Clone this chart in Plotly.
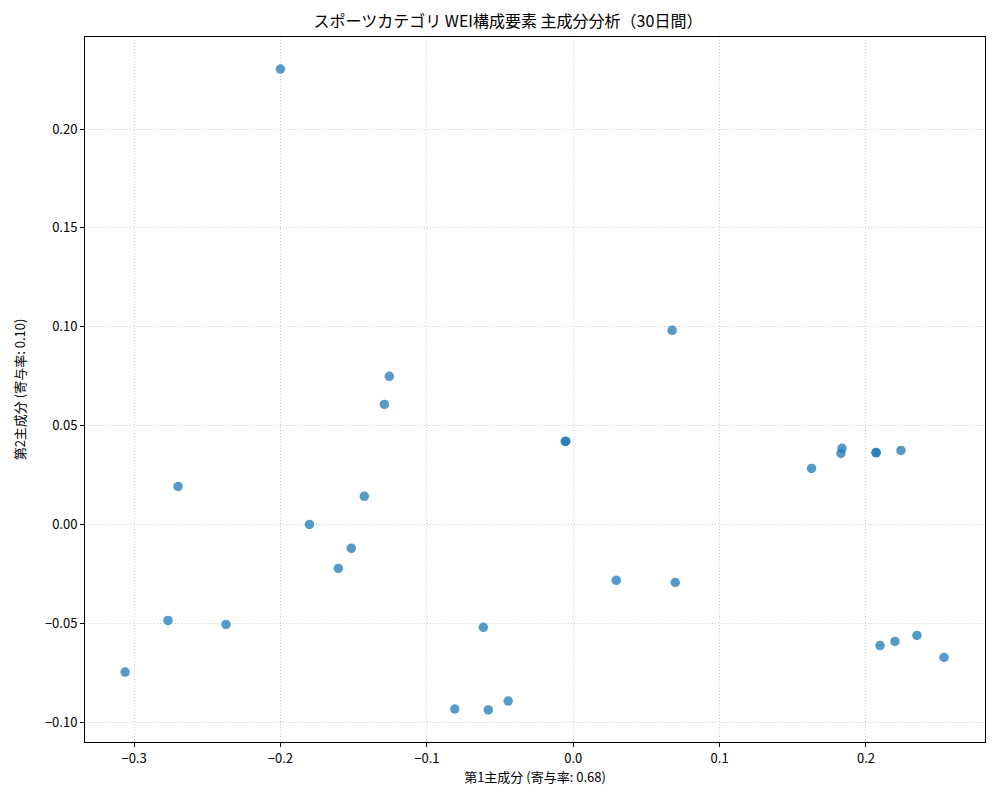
import plotly.graph_objects as go

pc1 = [-0.2000, -0.3061, -0.2699, -0.2768, -0.2372, -0.1802, -0.1604, -0.1516,
       -0.1427, -0.1290, -0.1256, -0.0809, -0.0580, -0.0614, -0.0444, -0.0055,
       -0.0050, 0.0294, 0.0676, 0.0697, 0.1628, 0.1829, 0.1836, 0.2068,
       0.2070, 0.2239, 0.2096, 0.2198, 0.2348, 0.2533]
pc2 = [0.2304, -0.0747, 0.0192, -0.0486, -0.0506, 0.0000, -0.0223, -0.0121,
       0.0142, 0.0607, 0.0749, -0.0934, -0.0939, -0.0521, -0.0894, 0.0420,
       0.0421, -0.0283, 0.0982, -0.0294, 0.0283, 0.0359, 0.0385, 0.0364,
       0.0362, 0.0374, -0.0613, -0.0592, -0.0562, -0.0673]

x_ticks = [-0.3, -0.2, -0.1, 0.0, 0.1, 0.2]
x_tick_labels = ["−0.3", "−0.2", "−0.1", "0.0", "0.1", "0.2"]
y_ticks = [-0.10, -0.05, 0.00, 0.05, 0.10, 0.15, 0.20]
y_tick_labels = ["−0.10", "−0.05", "0.00", "0.05", "0.10", "0.15", "0.20"]

title = "スポーツカテゴリ WEI構成要素 主成分分析（30日間）"
xlabel = "第1主成分 (寄与率: 0.68)"
ylabel = "第2主成分 (寄与率: 0.10)"

font = "Noto Sans CJK JP, Noto Sans, DejaVu Sans"

fig = go.Figure(go.Scatter(
    x=pc1, y=pc2, mode="markers",
    marker=dict(size=9.5, color="rgba(31,119,180,0.75)", line=dict(width=0)),
))

axis_common = dict(
    showline=True, linecolor="black", linewidth=1, mirror=True,
    ticks="outside", ticklen=4, tickcolor="black", tickwidth=1,
    showgrid=True, gridcolor="#cccccc", griddash="1px,2px", gridwidth=1,
    zeroline=False, tickfont=dict(size=13, color="black", family=font),
)

fig.update_layout(
    width=1000, height=800,
    margin=dict(l=77, r=23, t=29, b=66),
    paper_bgcolor="white", plot_bgcolor="white",
    font=dict(family=font, color="black"),
    title=dict(text=title, x=0.5, xanchor="center", y=0.983, yanchor="middle",
               font=dict(size=16, color="black", family=font)),
    showlegend=False,
    xaxis=dict(range=[-0.3335, 0.2813], tickvals=x_ticks, ticktext=x_tick_labels,
               title=dict(text=xlabel, font=dict(size=13, family=font), standoff=6),
               **axis_common),
    yaxis=dict(range=[-0.1101, 0.2466], tickvals=y_ticks, ticktext=y_tick_labels,
               title=dict(text=ylabel, font=dict(size=13, family=font), standoff=16),
               **axis_common),
)

fig.write_html("out.html")
